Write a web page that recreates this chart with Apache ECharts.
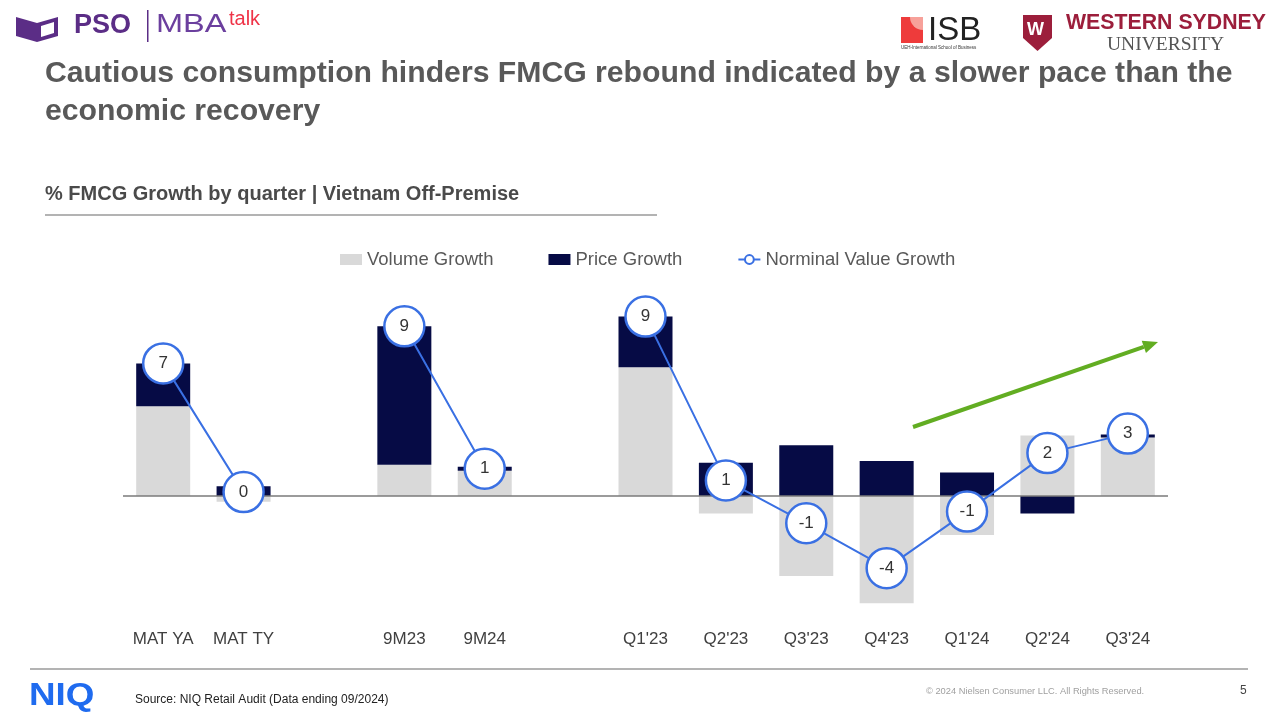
<!DOCTYPE html>
<html>
<head>
<meta charset="utf-8">
<script src="https://cdn.jsdelivr.net/npm/echarts@6/dist/echarts.min.js"></script>
<style>
html,body{margin:0;padding:0;background:#fff;}
#c{width:1280px;height:719px;}
</style>
</head>
<body>
<div id="c"></div>
<script>
const categories = ['MAT YA', 'MAT TY', ' ', '9M23', '9M24', '  ', "Q1'23", "Q2'23", "Q3'23", "Q4'23", "Q1'24", "Q2'24", "Q3'24"];
const volumeGrowth = [4.6, -0.3, '-', 1.6, 1.3, '-', 6.6, -0.9, -4.1, -5.5, -2.0, 3.1, 3.0];
const priceGrowth = [2.2, 0.5, '-', 7.1, 0.2, '-', 2.6, 1.7, 2.6, 1.8, 1.2, -0.9, 0.15];
const nominalValueGrowth = [6.8, 0.2, '-', 8.7, 1.4, '-', 9.2, 0.8, -1.4, -3.7, -0.8, 2.2, 3.2];

const FONT = '"Liberation Sans", Arial, sans-serif';
const chart = echarts.init(document.getElementById('c'));

const green = '#62ad22';
// arrow geometry (annotation)
const ax1 = 913, ay1 = 427, ax2 = 1158, ay2 = 342;
const dx = ax2 - ax1, dy = ay2 - ay1, L = Math.sqrt(dx*dx + dy*dy);
const ux = dx / L, uy = dy / L, nx = -uy, ny = ux;
const hl = 15, hw = 6.5;
const bx = ax2 - hl*ux, by = ay2 - hl*uy;

chart.setOption({
  backgroundColor: '#fff',
  animation: false,
  textStyle: { fontFamily: FONT },
  legend: {
    left: 335, top: 245,
    itemWidth: 22, itemHeight: 11, itemGap: 55,
    textStyle: { fontSize: 18.5, color: '#595959', fontFamily: FONT },
    data: [
      { name: 'Volume Growth', icon: 'rect' },
      { name: 'Price Growth', icon: 'rect' },
      { name: 'Norminal Value Growth' }
    ]
  },
  grid: { left: 123, right: 112, top: 301, bottom: 96.25 },
  xAxis: {
    type: 'category',
    data: categories,
    axisLine: { show: false },
    axisTick: { show: false },
    axisLabel: { interval: 0, fontSize: 17, color: '#404040', fontFamily: FONT, margin: 8 }
  },
  yAxis: {
    type: 'value', min: -6.5, max: 10, show: false, splitLine: { show: false }
  },
  series: [
    {
      name: 'Volume Growth', type: 'bar', stack: 'g', barWidth: 54,
      itemStyle: { color: '#d9d9d9' },
      data: volumeGrowth,
      markLine: {
        silent: true, symbol: 'none', label: { show: false },
        lineStyle: { color: '#7a7a7a', width: 1.5, type: 'solid' },
        data: [{ yAxis: 0 }], z: 3
      }
    },
    {
      name: 'Price Growth', type: 'bar', stack: 'g', barWidth: 54,
      itemStyle: { color: '#060b45' },
      data: priceGrowth
    },
    {
      name: 'Norminal Value Growth', type: 'line', z: 5,
      data: nominalValueGrowth,
      connectNulls: false,
      symbol: 'circle', symbolSize: 40,
      lineStyle: { color: '#3a70e3', width: 2 },
      itemStyle: { color: '#ffffff', borderColor: '#3a70e3', borderWidth: 2.5 },
      label: {
        show: true, position: 'inside', fontSize: 17, color: '#333333', fontFamily: FONT,
        formatter: p => String(Math.round(p.value))
      }
    }
  ],
  graphic: [
    // PSO MBAtalk logo
    { type: 'polygon', shape: { points: [[16,17],[37,23],[37,42],[16,36]] }, style: { fill: '#5b2d86' } },
    { type: 'polygon', shape: { points: [[37,23],[58,17],[58,36],[37,42]] }, style: { fill: '#5b2d86' } },
    { type: 'polygon', shape: { points: [[41,26],[54,22],[54,33],[41,37]] }, style: { fill: '#ffffff' } },
    { type: 'text', left: 74, top: 12, style: { text: 'PSO', font: 'bold 27px ' + FONT, fill: '#5b2d86' } },
    { type: 'rect', shape: { x: 147, y: 10, width: 1.5, height: 32 }, style: { fill: '#5b2d86' } },
    { type: 'text', x: 156, y: 12, scaleX: 1.25, style: { text: 'MBA', font: '26px ' + FONT, fill: '#6b3f9e' } },
    { type: 'text', left: 229, top: 9, style: { text: 'talk', font: '20px ' + FONT, fill: '#ef3347' } },
    // ISB logo
    { type: 'rect', shape: { x: 901, y: 17, width: 22, height: 26 }, style: { fill: '#ee3b3b' } },
    { type: 'sector', shape: { cx: 923, cy: 17, r0: 0, r: 13, startAngle: Math.PI/2, endAngle: Math.PI }, style: { fill: '#f7a19a' } },
    { type: 'text', left: 928, top: 14, style: { text: 'ISB', font: '33px ' + FONT, fill: '#222222' } },
    { type: 'text', left: 901, top: 45, style: { text: 'UEH-International School of Business', font: '4.5px ' + FONT, fill: '#333' } },
    // Western Sydney University logo
    { type: 'polygon', shape: { points: [[1023,15],[1052,15],[1052,38],[1037.5,51],[1023,38]] }, style: { fill: '#9c1e3b' } },
    { type: 'text', left: 1027, top: 21, style: { text: 'W', font: 'bold 18px ' + FONT, fill: '#ffffff' } },
    { type: 'text', left: 1066, top: 13, style: { text: 'WESTERN SYDNEY', font: 'bold 21.3px ' + FONT, fill: '#9c1e3b' } },
    { type: 'text', left: 1107, top: 35, style: { text: 'UNIVERSITY', font: '19.5px "Liberation Serif", "DejaVu Serif", serif', fill: '#555555' } },
    // Title
    { type: 'text', left: 45, top: 59, style: { text: 'Cautious consumption hinders FMCG rebound indicated by a slower pace than the', font: 'bold 30.2px ' + FONT, fill: '#595959' } },
    { type: 'text', left: 45, top: 97, style: { text: 'economic recovery', font: 'bold 30.2px ' + FONT, fill: '#595959' } },
    // Subtitle
    { type: 'text', left: 45, top: 184, style: { text: '% FMCG Growth by quarter | Vietnam Off-Premise', font: 'bold 20px ' + FONT, fill: '#4a4a4a' } },
    { type: 'line', shape: { x1: 45, y1: 215, x2: 657, y2: 215 }, style: { stroke: '#9a9a9a', lineWidth: 1.5 } },
    // Green arrow
    { type: 'line', shape: { x1: ax1, y1: ay1, x2: bx, y2: by }, style: { stroke: green, lineWidth: 4 } },
    { type: 'polygon', shape: { points: [[ax2, ay2], [bx + hw*nx, by + hw*ny], [bx - hw*nx, by - hw*ny]] }, style: { fill: green } },
    // Footer
    { type: 'line', shape: { x1: 30, y1: 669, x2: 1248, y2: 669 }, style: { stroke: '#9a9a9a', lineWidth: 1.5 } },
    { type: 'text', x: 29, y: 680, scaleX: 1.15, style: { text: 'NIQ', font: 'bold 32px ' + FONT, fill: '#1f6bef' } },
    { type: 'text', left: 135, top: 694, style: { text: 'Source: NIQ Retail Audit (Data ending 09/2024)', font: '12px ' + FONT, fill: '#222222' } },
    { type: 'text', left: 926, top: 687, style: { text: '© 2024 Nielsen Consumer LLC. All Rights Reserved.', font: '9.3px ' + FONT, fill: '#a0a0a0' } },
    { type: 'text', left: 1240, top: 685, style: { text: '5', font: '12px ' + FONT, fill: '#444444' } }
  ]
});
</script>
</body>
</html>
